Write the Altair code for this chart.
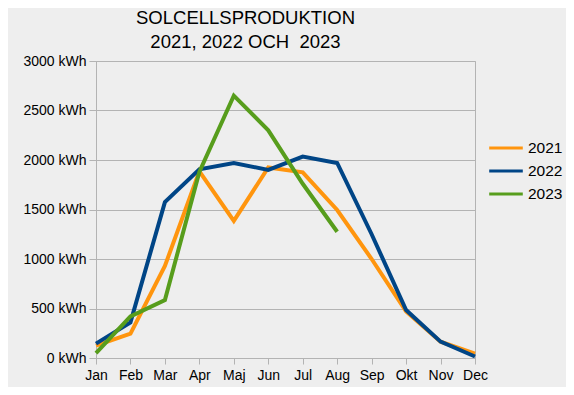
import altair as alt
import pandas as pd

months = ["Jan", "Feb", "Mar", "Apr", "Maj", "Jun", "Jul", "Aug", "Sep", "Okt", "Nov", "Dec"]
v2021 = [125, 245, 930, 1885, 1385, 1925, 1875, 1495, 1000, 470, 165, 45]
v2022 = [145, 360, 1575, 1905, 1970, 1900, 2035, 1970, 1250, 485, 165, 15]
v2023 = [50, 420, 585, 1880, 2650, 2300, 1760, 1275]
years = ["2021", "2022", "2023"]
colors = ["#ff950e", "#004586", "#579d1c"]

rows = []
for yr, vals in zip(years, [v2021, v2022, v2023]):
    for m, v in zip(months, vals):
        rows.append({"Månad": m, "kWh": v, "År": yr})
df = pd.DataFrame(rows)

FONT = "Liberation Sans"
GRID = "#b3b3b3"

chart = alt.Chart(df).mark_line(strokeWidth=4).encode(
    x=alt.X("Månad:N", sort=months, scale=alt.Scale(type="point", padding=0),
            axis=alt.Axis(title=None, labelAngle=0, grid=False, tickSize=6,
                          labelPadding=4, domainColor=GRID, tickColor=GRID)),
    y=alt.Y("kWh:Q", scale=alt.Scale(domain=[0, 3000], nice=False),
            axis=alt.Axis(title=None, values=[0, 500, 1000, 1500, 2000, 2500, 3000],
                          labelExpr="datum.value + ' kWh'", tickSize=7, labelPadding=3,
                          gridColor=GRID, domainColor=GRID, tickColor=GRID)),
    color=alt.Color("År:N", scale=alt.Scale(domain=years, range=colors),
                    legend=alt.Legend(title=None, orient="none", legendX=398, legendY=75,
                                      symbolType="M-1.6,0L1.6,0", symbolStrokeWidth=3,
                                      symbolSize=441, labelFontSize=15.5, labelFont=FONT,
                                      labelColor="black", rowPadding=2, labelOffset=10)),
).properties(
    width=379,
    height=297,
    title=alt.Title(["SOLCELLSPRODUKTION", "2021, 2022 OCH\u00a0 2023"], fontSize=18.5,
                    font=FONT, fontWeight="normal", color="black", dx=-40, offset=3,
                    lineHeight=24),
    autosize=alt.AutoSizeParams(type="none"),
    padding={"left": 88, "top": 53, "right": 91, "bottom": 29},
    background="#eeeeee",
).configure_view(
    stroke=GRID
).configure_axis(
    labelFont=FONT, labelFontSize=14, labelColor="black"
)

chart.save("out.html", embed_options={"renderer": "svg", "actions": False})
